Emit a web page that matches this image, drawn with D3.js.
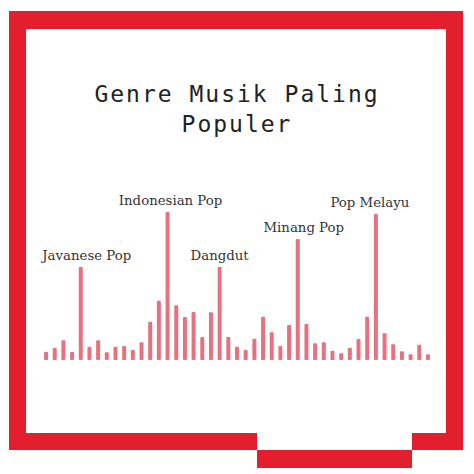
<!DOCTYPE html>
<html>
<head>
<meta charset="utf-8">
<title>Genre Musik Paling Populer</title>
<script src="https://cdn.jsdelivr.net/npm/d3@7"></script>
<style>
  html, body { margin: 0; padding: 0; background: #ffffff; }
  svg { display: block; }
</style>
</head>
<body>
<div id="chart"></div>
<script>
// Popularity score per bar (max bar = 100)
const values = [
  5.6, 8.1, 13.3, 5.4, 62.8, 9, 13.3, 5.2, 9, 9.5,
  6.8, 12, 25.9, 40.1, 100, 37, 29.1, 32.4, 15.5, 32.2,
  62.8, 15.5, 9, 6.8, 14.4, 29.3, 18.7, 9.5, 23.6, 81.8,
  24.3, 11.3, 12, 6.3, 4.5, 8.3, 14.2, 29.3, 98.6, 18,
  10.6, 5.9, 3.9, 10.3, 3.9
];

// Genre names for the highlighted bars (empty = no label)
const genres = [
  "", "", "", "", "Javanese Pop", "", "", "", "", "",
  "", "", "", "", "Indonesian Pop", "", "", "", "", "",
  "Dangdut", "", "", "", "", "", "", "", "", "Minang Pop",
  "", "", "", "", "", "", "", "", "Pop Melayu", "",
  "", "", "", "", ""
];

const titleLines = ["Genre Musik Paling", "Populer"];

const width = 474;
const height = 474;

// small horizontal nudges of the labels, as in the original layout
const labelDx = {
  "Javanese Pop": 6,
  "Indonesian Pop": 3,
  "Dangdut": 0,
  "Minang Pop": 6,
  "Pop Melayu": -6
};

const svg = d3.select("#chart")
  .append("svg")
  .attr("width", width)
  .attr("height", height);

// Red frame with the stepped bottom edge
const red = "#e41f2d";
const frame = [
  [9, 11, 454, 18],    // top
  [9, 11, 17, 439],    // left
  [446, 11, 17, 439],  // right
  [9, 433, 248, 17],   // bottom left
  [257, 450, 155, 18], // bottom middle (lowered)
  [412, 433, 51, 17]   // bottom right
];
svg.append("g")
  .selectAll("rect")
  .data(frame)
  .enter()
  .append("rect")
  .attr("x", d => d[0])
  .attr("y", d => d[1])
  .attr("width", d => d[2])
  .attr("height", d => d[3])
  .attr("fill", red);

// Title
svg.append("text")
  .attr("x", 237)
  .attr("y", 102)
  .attr("text-anchor", "middle")
  .style("font-family", "'DejaVu Sans Mono', monospace")
  .style("font-size", "23px")
  .style("letter-spacing", "2px")
  .style("fill", "#222222")
  .selectAll("tspan")
  .data(titleLines)
  .enter()
  .append("tspan")
  .attr("x", 237)
  .attr("dy", (d, i) => i === 0 ? 0 : 30)
  .text(d => d);

// Scales
const x = d3.scaleBand()
  .domain(values.map((d, i) => i))
  .range([41.7, 432.3])
  .paddingInner(0.54)
  .paddingOuter(0.27);

const y = d3.scaleLinear()
  .domain([0, 100])
  .range([360, 212]);

// Bars
svg.append("g")
  .selectAll("rect")
  .data(values)
  .enter()
  .append("rect")
  .attr("x", (d, i) => x(i))
  .attr("y", d => y(d))
  .attr("width", x.bandwidth())
  .attr("height", d => y(0) - y(d))
  .attr("rx", 1)
  .attr("fill", "#e8717f");

// Genre labels
svg.append("g")
  .selectAll("text")
  .data(values.map((v, i) => ({ v, i, name: genres[i] })).filter(d => d.name))
  .enter()
  .append("text")
  .attr("x", d => x(d.i) + x.bandwidth() / 2 + (labelDx[d.name] || 0))
  .attr("y", d => y(d.v) - 7)
  .attr("text-anchor", "middle")
  .style("font-family", "'DejaVu Serif', serif")
  .style("font-size", "13.3px")
  .style("fill", "#333333")
  .text(d => d.name);
</script>
</body>
</html>
